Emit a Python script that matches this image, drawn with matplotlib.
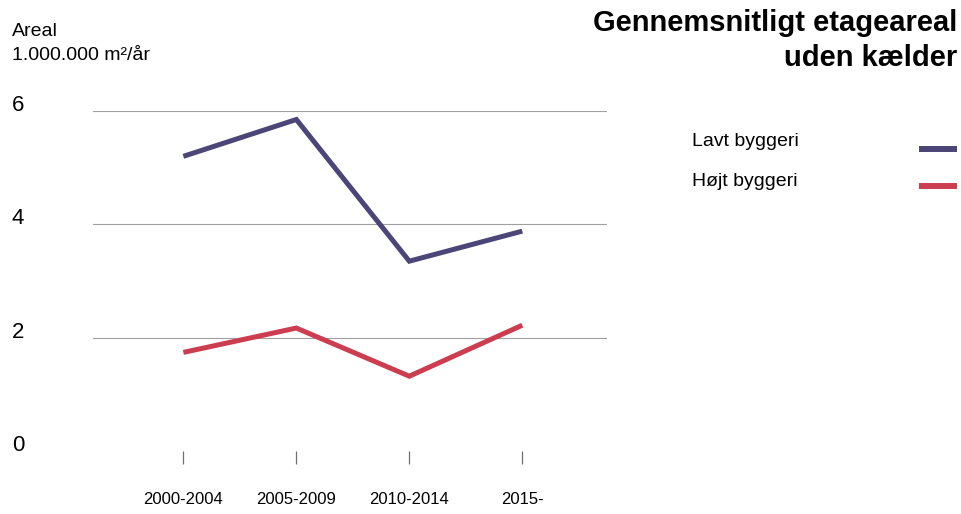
import matplotlib
matplotlib.use("Agg")
import matplotlib.pyplot as plt
import matplotlib.transforms as mtransforms

periods = ["2000-2004", "2005-2009", "2010-2014", "2015-"]
lavt = [5.2, 5.85, 3.35, 3.88]
hojt = [1.74, 2.17, 1.32, 2.22]
y_ticks = [0, 2, 4, 6]

LAVT_COLOR = "#4b4677"
HOJT_COLOR = "#cc3d4f"

plt.rcParams["font.family"] = ["Liberation Sans", "DejaVu Sans"]

W, H = 962, 514
fig = plt.figure(figsize=(W / 100, H / 100), dpi=100)
ax = fig.add_axes([93 / W, (H - 451) / H, (607 - 93) / W, (451 - 111) / H])

xs = list(range(len(periods)))
ax.plot(xs, lavt, color=LAVT_COLOR, lw=3.6, solid_capstyle="butt", solid_joinstyle="miter")
ax.plot(xs, hojt, color=HOJT_COLOR, lw=3.6, solid_capstyle="butt", solid_joinstyle="miter")

ax.set_xlim(-0.8, 3.75)
ax.set_ylim(0, 6)

for s in ax.spines.values():
    s.set_visible(False)

# gridlines (no line at 0)
for y in y_ticks[1:]:
    ax.axhline(y, color="#a0a0a0", lw=0.8, zorder=0)

ax.set_yticks([])
ax.set_xticks(xs)
ax.set_xticklabels(periods, fontsize=12)
ax.tick_params(axis="x", direction="out", length=9.5, width=0.9, color="#707070", pad=20)

# y tick labels sitting on the gridlines, far left
trans = mtransforms.blended_transform_factory(fig.transFigure, ax.transData)
for y in y_ticks:
    ax.text(12 / W, y, str(y), transform=trans, fontsize=16, va="baseline", ha="left")

fig.text(12 / W, 1 - 31 / H, "Areal", fontsize=14, va="center", ha="left")
fig.text(12 / W, 1 - 55 / H, "1.000.000 m²/år", fontsize=14, va="center", ha="left")

fig.text(957 / W, 1 - 23 / H, "Gennemsnitligt etageareal", fontsize=21, fontweight="bold",
         va="center", ha="right")
fig.text(957 / W, 1 - 58 / H, "uden kælder", fontsize=21, fontweight="bold",
         va="center", ha="right")

# legend
fig.text(692 / W, 1 - 141 / H, "Lavt byggeri", fontsize=14, va="center", ha="left")
fig.text(692 / W, 1 - 181 / H, "Højt byggeri", fontsize=14, va="center", ha="left")
fig.add_artist(plt.Line2D([919 / W, 957 / W], [1 - 149 / H, 1 - 149 / H], color=LAVT_COLOR, lw=4.3,
                          solid_capstyle="butt"))
fig.add_artist(plt.Line2D([919 / W, 957 / W], [1 - 186 / H, 1 - 186 / H], color=HOJT_COLOR, lw=4.3,
                          solid_capstyle="butt"))

fig.savefig("out.png", dpi=100)
